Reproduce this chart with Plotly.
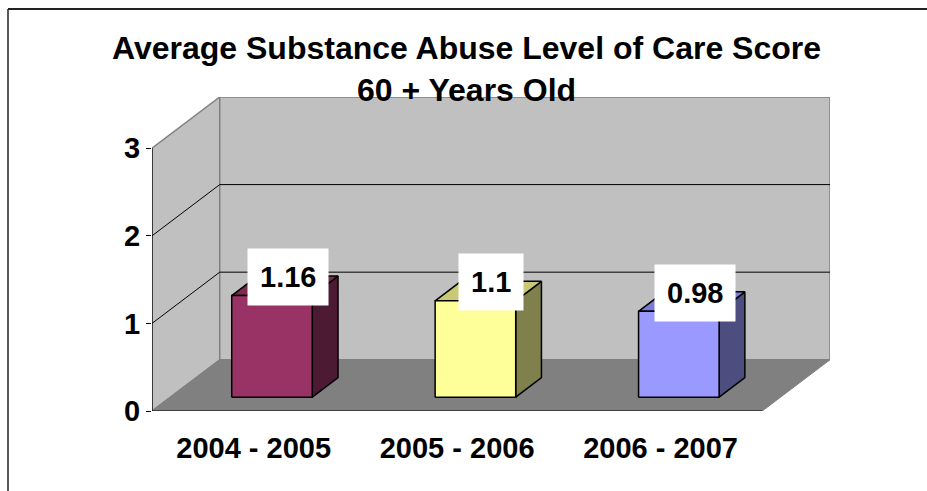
import plotly.graph_objects as go

# ---- data ----
categories = ["2004 - 2005", "2005 - 2006", "2006 - 2007"]
values = [1.16, 1.1, 0.98]
value_labels = ["1.16", "1.1", "0.98"]
front_colors = ["#993366", "#FFFF99", "#9999FF"]
top_colors = ["#80294F", "#C8C877", "#7C7CD4"]
side_colors = ["#4D1A33", "#80804D", "#4D4D80"]
y_ticks = [0, 1, 2, 3]
title_line1 = "Average Substance Abuse Level of Care Score"
title_line2 = "60 + Years Old"

# ---- 3D projection settings ----
W, H = 927, 491
ML, MR, MT, MB = 152, 97, 97, 80
DX = 0.333   # depth shift in category units
DY = 0.585   # depth shift in value units
Z0, Z1 = 0.27, 0.65  # bar front/back depth fractions
HW = 0.198   # bar half width
YMAX = 3
FONT = "Liberation Sans, Arial, sans-serif"

n = len(categories)
xl, xr = -0.5, n - 0.5


def P(x, y, z):
    return x + z * DX, y + z * DY


def poly(points):
    xs = [p[0] for p in points] + [points[0][0]]
    ys = [p[1] for p in points] + [points[0][1]]
    return xs, ys


fig = go.Figure()
shapes = []


def path_shape(points, fill, line_color, lw, layer="below"):
    d = "M " + " L ".join(f"{x},{y}" for x, y in points) + " Z"
    return dict(type="path", path=d, xref="x", yref="y", fillcolor=fill,
                line=dict(color=line_color, width=lw), layer=layer)


# walls and floor
shapes.append(path_shape([P(xl, 0, 0), P(xl, 0, 1), P(xl, YMAX, 1), P(xl, YMAX, 0)],
                         "#C0C0C0", "#808080", 1.5))
shapes.append(path_shape([P(xl, 0, 1), P(xr, 0, 1), P(xr, YMAX, 1), P(xl, YMAX, 1)],
                         "#C0C0C0", "#808080", 1.5))
shapes.append(path_shape([P(xl, 0, 0), P(xr, 0, 0), P(xr, 0, 1), P(xl, 0, 1)],
                         "#808080", "#808080", 1))
# gridlines
for k in y_ticks[1:-1]:
    a, b = P(xl, k, 1), P(xr, k, 1)
    shapes.append(dict(type="line", xref="x", yref="y", x0=a[0], y0=a[1], x1=b[0], y1=b[1],
                       line=dict(color="black", width=1), layer="below"))
    c = P(xl, k, 0)
    shapes.append(dict(type="line", xref="x", yref="y", x0=c[0], y0=c[1], x1=a[0], y1=a[1],
                       line=dict(color="black", width=1), layer="below"))
# front axes
shapes.append(dict(type="line", xref="x", yref="y", x0=xl, y0=0, x1=xl, y1=YMAX,
                   line=dict(color="black", width=1.2)))
shapes.append(dict(type="line", xref="x", yref="y", x0=xl, y0=0, x1=xr, y1=0,
                   line=dict(color="black", width=1.2)))
for i in range(n + 1):
    shapes.append(dict(type="line", xref="x", yref="y", ysizemode="pixel", yanchor=0,
                       x0=xl + i, x1=xl + i, y0=0, y1=-7,
                       line=dict(color="black", width=1.2)))

# bars
for i, v in enumerate(values):
    front = [P(i - HW, 0, Z0), P(i + HW, 0, Z0), P(i + HW, v, Z0), P(i - HW, v, Z0)]
    side = [P(i + HW, 0, Z0), P(i + HW, 0, Z1), P(i + HW, v, Z1), P(i + HW, v, Z0)]
    top = [P(i - HW, v, Z0), P(i + HW, v, Z0), P(i + HW, v, Z1), P(i - HW, v, Z1)]
    for pts, col in ((side, side_colors[i]), (top, top_colors[i]), (front, front_colors[i])):
        xs, ys = poly(pts)
        fig.add_trace(go.Scatter(x=xs, y=ys, mode="lines", fill="toself", fillcolor=col,
                                 line=dict(color="black", width=1.5), hoverinfo="skip",
                                 showlegend=False))

annotations = []
zm = (Z0 + Z1) / 2
for i, v in enumerate(values):
    ax, ay = P(i, v, zm)
    annotations.append(dict(x=ax, y=ay, xref="x", yref="y", text=value_labels[i],
                            showarrow=False, yshift=9, xshift=3, bgcolor="white", borderpad=12,
                            font=dict(family=FONT, size=29, color="black", weight="bold")))

# title
pw, ph = W - ML - MR, H - MT - MB


def px2paper(px, py):
    return (px - ML) / pw, (H - MB - py) / ph


tx, ty1 = px2paper(466, 48)
_, ty2 = px2paper(466, 90)
annotations.append(dict(x=tx, y=ty1, xref="paper", yref="paper", text=title_line1,
                        showarrow=False, yanchor="middle",
                        font=dict(family=FONT, size=32, color="black", weight="bold")))
annotations.append(dict(x=tx, y=ty2, xref="paper", yref="paper", text=title_line2,
                        showarrow=False, yanchor="middle",
                        font=dict(family=FONT, size=32, color="black", weight="bold")))

# outer frame (top and left edges; right/bottom fall outside the picture)
fx0, fy1 = px2paper(8, 9)
fx1, fy0 = px2paper(W, H)
shapes.append(dict(type="line", xref="paper", yref="paper", x0=fx0, x1=fx1, y0=fy1, y1=fy1,
                   line=dict(color="#222222", width=2)))
shapes.append(dict(type="line", xref="paper", yref="paper", x0=fx0, x1=fx0, y0=fy1, y1=fy0,
                   line=dict(color="#222222", width=1.5)))

fig.update_layout(
    width=W, height=H,
    margin=dict(l=ML, r=MR, t=MT, b=MB),
    paper_bgcolor="white", plot_bgcolor="white",
    shapes=shapes, annotations=annotations,
    showlegend=False,
    xaxis=dict(range=[xl, xr + DX], tickvals=list(range(n)), ticktext=categories,
               showgrid=False, zeroline=False, showline=False, ticks="",
               ticklabelstandoff=17,
               tickfont=dict(family=FONT, size=29, color="black", weight="bold")),
    yaxis=dict(range=[0, YMAX + DY], tickvals=y_ticks, showgrid=False, zeroline=False,
               showline=False, ticks="outside", ticklen=5, tickcolor="black",
               tickfont=dict(family=FONT, size=29, color="black", weight="bold")),
)

fig.write_html("out.html", config={"displayModeBar": False})
